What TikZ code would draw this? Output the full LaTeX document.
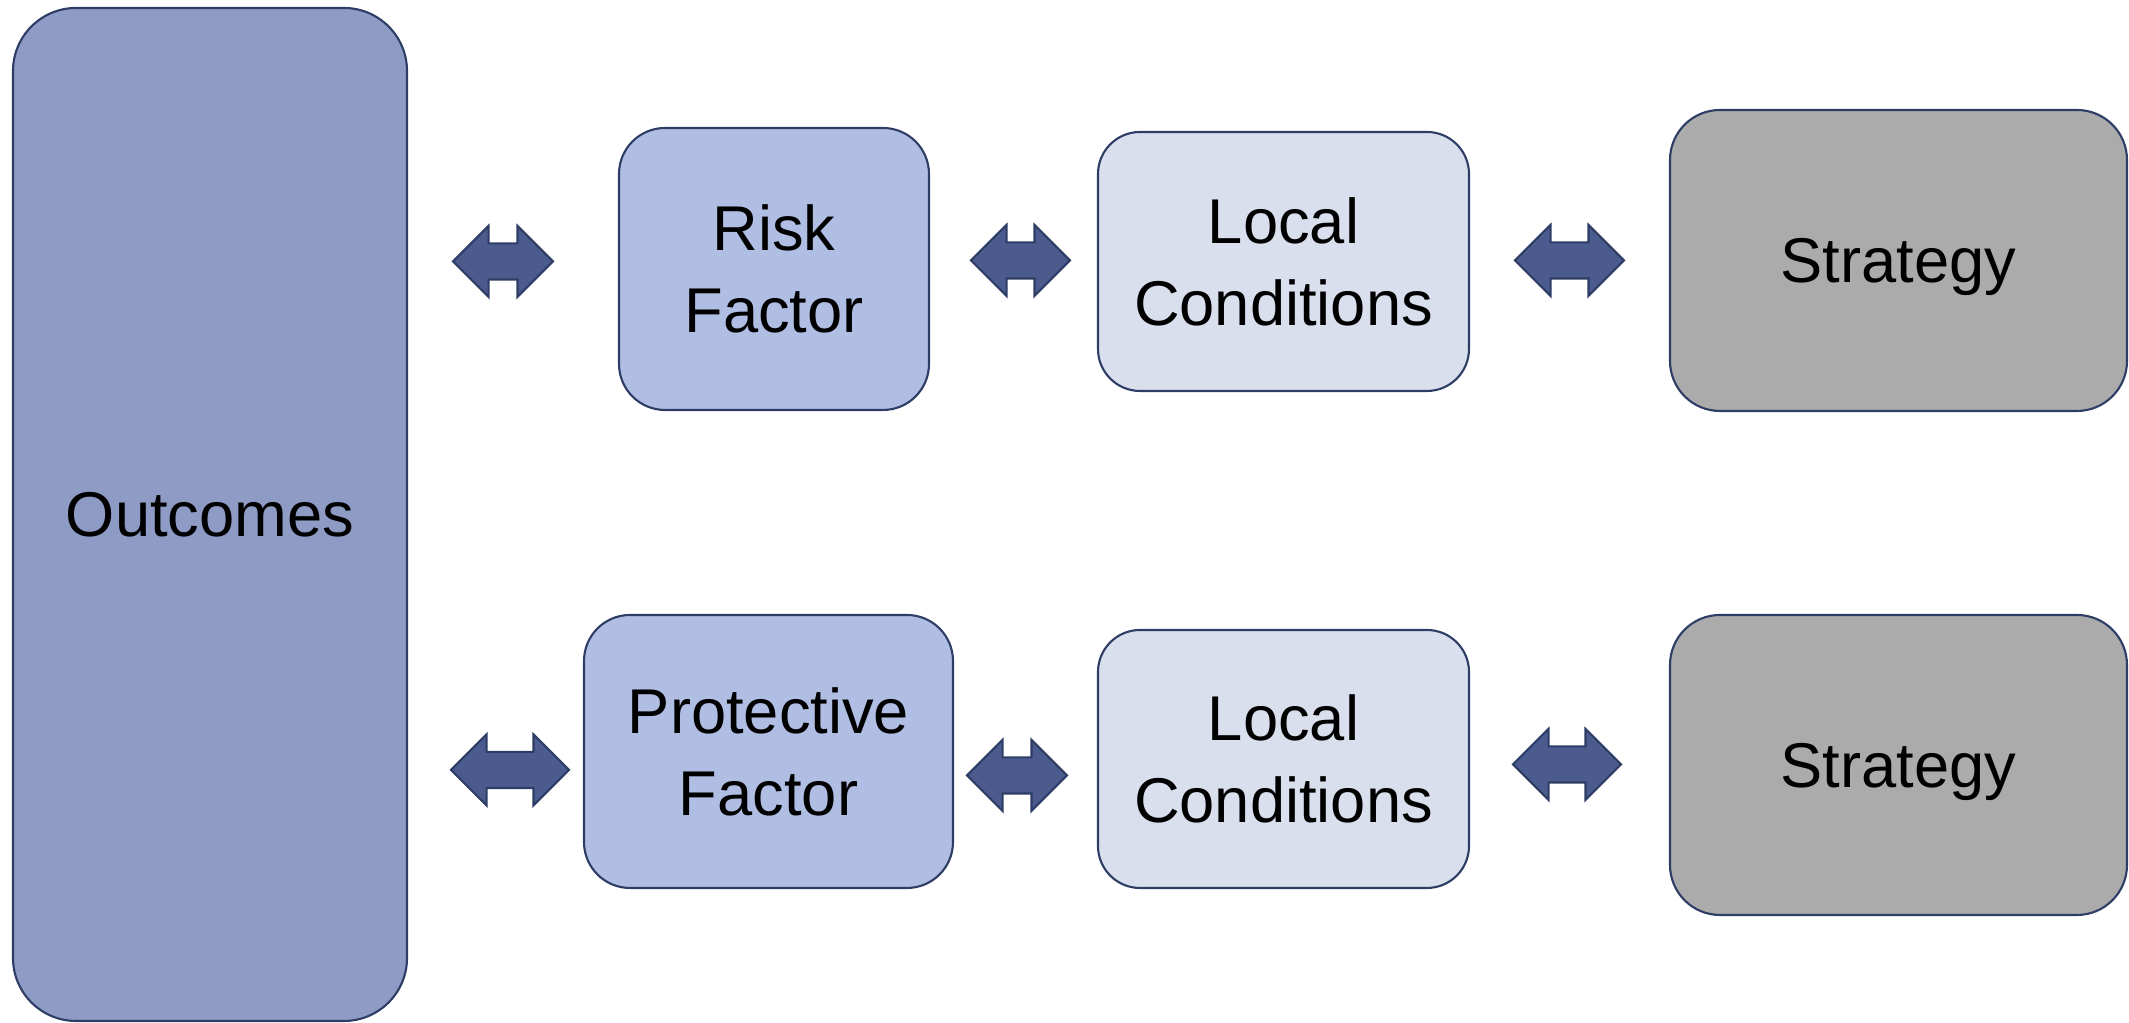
\documentclass[tikz,border=0pt]{standalone}
\usepackage{fontspec}
\setmainfont{Liberation Sans}
\usetikzlibrary{shapes.arrows}
\definecolor{edge}{HTML}{2E3D65}
\definecolor{outc}{HTML}{8E9BC4}
\definecolor{factor}{HTML}{B0BEE3}
\definecolor{local}{HTML}{D9DFEC}
\definecolor{strat}{HTML}{ABABAB}
\definecolor{arrowfill}{HTML}{4B5B8D}

\begin{document}
\begin{tikzpicture}[
  box/.style={draw=edge, line width=0.6pt, rounded corners=0.46cm, align=center,
    font=\fontsize{18}{23.3}\selectfont, inner sep=0pt},
  twoway/.style={double arrow, draw=edge, fill=arrowfill, line width=0.6pt,
    inner xsep=0pt, inner ysep=0.17cm, double arrow head extend=0.175cm,
    double arrow tip angle=90}
]
\useasboundingbox (0,0) rectangle (21.29,10.23);
\node [box, fill=outc, rounded corners=0.63cm, minimum width=3.94cm, minimum height=10.13cm] (o) at (2.10,5.085) {Outcomes};
\node [box, fill=factor, minimum width=3.10cm, minimum height=2.82cm] (rf) at (7.74,7.54) {Risk\\Factor};
\node [box, fill=local, rounded corners=0.42cm, minimum width=3.71cm, minimum height=2.59cm] (lc1) at (12.835,7.615) {Local\\Conditions};
\node [box, fill=strat, rounded corners=0.5cm, minimum width=4.57cm, minimum height=3.01cm, text depth=0pt] (s1) at (18.985,7.625) {Strategy};
\node [box, fill=factor, minimum width=3.69cm, minimum height=2.73cm] (pf) at (7.685,2.715) {Protective\\Factor};
\node [box, fill=local, rounded corners=0.42cm, minimum width=3.71cm, minimum height=2.58cm] (lc2) at (12.835,2.64) {Local\\Conditions};
\node [box, fill=strat, rounded corners=0.5cm, minimum width=4.57cm, minimum height=3.00cm, text depth=0pt] (s2) at (18.985,2.58) {Strategy};
\node [twoway, minimum height=1.00cm] (orf) at (5.03,7.615) {};
\node [twoway, minimum height=0.99cm] (rflc) at (10.205,7.625) {};
\node [twoway, minimum height=1.09cm] (lcs1) at (15.695,7.625) {};
\node [twoway, minimum height=1.18cm] (opf) at (5.10,2.53) {};
\node [twoway, minimum height=1.00cm] (pflc) at (10.17,2.475) {};
\node [twoway, minimum height=1.08cm] (lcs2) at (15.67,2.585) {};
\end{tikzpicture}
\end{document}
